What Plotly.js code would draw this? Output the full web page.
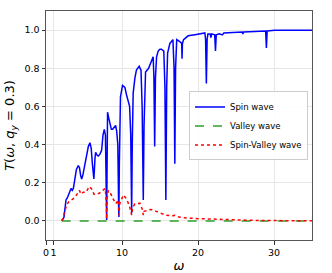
<!DOCTYPE html>
<html><head><meta charset="utf-8">
<script src="https://cdn.plot.ly/plotly-3.0.1.min.js"></script>
<style>html,body{margin:0;padding:0;background:#fff;}#c{width:332px;height:273px;}</style>
</head><body><div id="c"></div>
<script>
const spinW = [2.06,2.25,2.37,2.5,2.63,2.8,2.93,3.1,3.29,3.46,3.6,3.8,4.0,4.25,4.4,4.55,4.69,4.85,5.1,5.35,5.57,5.78,5.95,6.1,6.3,6.45,6.53,6.7,6.88,7.1,7.32,7.5,7.67,7.82,7.92,7.98,8.04,8.1,8.25,8.41,8.6,8.76,8.95,9.16,9.3,9.45,9.55,9.59,9.65,9.8,10.07,10.38,10.6,10.82,11.0,11.15,11.27,11.35,11.47,11.7,11.9,12.26,12.5,12.65,12.8,12.9,13.0,13.1,13.5,13.9,14.1,14.2,14.3,14.4,14.55,14.76,15.0,15.2,15.5,15.65,15.77,15.88,16.0,16.3,16.7,16.85,16.95,17.05,17.2,17.6,17.85,17.9,17.95,18.1,18.7,19.6,20.9,21.0,21.1,21.2,21.3,21.6,21.7,21.8,22.2,22.3,22.4,22.8,23.2,23.4,25.8,25.9,26.0,28.9,29.0,29.1,30.1,35];
const spinT = [0.005,0.01,0.02,0.08,0.11,0.12,0.13,0.15,0.17,0.16,0.17,0.22,0.27,0.29,0.28,0.24,0.22,0.24,0.30,0.36,0.39,0.41,0.38,0.30,0.22,0.33,0.36,0.345,0.34,0.35,0.37,0.45,0.48,0.45,0.2,0.005,0.3,0.57,0.54,0.51,0.48,0.48,0.49,0.50,0.47,0.40,0.1,0.02,0.3,0.65,0.71,0.70,0.66,0.62,0.60,0.45,0.04,0.4,0.67,0.75,0.79,0.81,0.79,0.6,0.11,0.5,0.76,0.78,0.80,0.84,0.86,0.75,0.39,0.75,0.86,0.89,0.90,0.90,0.89,0.7,0.11,0.7,0.88,0.93,0.95,0.8,0.30,0.8,0.95,0.94,0.93,0.85,0.93,0.95,0.97,0.976,0.985,0.95,0.72,0.95,0.98,0.98,0.96,0.98,0.975,0.89,0.975,0.98,0.975,0.985,0.99,0.98,0.99,0.995,0.906,0.995,0.999,0.999];
const valleyW = [2.06,10,20,30,35];
const valleyT = [0,0,0,0,0];
const svW = [2.06,2.2,2.4,2.72,3.0,3.29,3.72,4.17,4.4,4.6,4.9,5.26,5.5,5.7,5.95,6.14,6.3,6.58,7.0,7.45,7.8,7.92,7.98,8.05,8.2,8.55,8.76,9.2,9.5,9.59,9.7,10.17,10.5,10.95,11.27,11.4,11.7,12.35,12.7,12.8,12.9,13.7,14.0,14.5,15.1,15.8,16.6,16.9,17.5,18.5,20,23,26,28,35];
const svT = [0,0.01,0.04,0.084,0.1,0.11,0.12,0.145,0.16,0.14,0.15,0.15,0.17,0.18,0.17,0.16,0.14,0.14,0.145,0.16,0.17,0.1,0.01,0.12,0.16,0.14,0.12,0.09,0.11,0.03,0.09,0.136,0.12,0.084,0.03,0.07,0.09,0.093,0.058,0.03,0.05,0.06,0.058,0.05,0.04,0.03,0.026,0.03,0.02,0.015,0.012,0.008,0.004,0.002,0.001];
const xTickVals = [0,1,10,20,30];
const xTickText = ['0','1','10','20','30'];
const yTickVals = [0,0.2,0.4,0.6,0.8,1.0];
const yTickText = ['0.0','0.2','0.4','0.6','0.8','1.0'];

const font = {family:'DejaVu Sans', size:9.5, color:'#000'};
const traces = [
  {x:spinW, y:spinT, mode:'lines', name:'Spin wave', line:{color:'#0000ff', width:1.5}},
  {x:valleyW, y:valleyT, mode:'lines', name:'Valley wave', line:{color:'#2ca02c', width:1.5, dash:'dash'}},
  {x:svW, y:svT, mode:'lines', name:'Spin-Valley wave', line:{color:'#ff0000', width:1.5, dash:'dot'}}
];
const layout = {
  width:332, height:273,
  margin:{l:46, r:20, t:11, b:33},
  paper_bgcolor:'#fff', plot_bgcolor:'#fff',
  font:font,
  showlegend:true,
  legend:{x:0.985, y:0.498, xanchor:'right', yanchor:'middle', itemwidth:30, bgcolor:'rgba(255,255,255,0.85)', bordercolor:'#cccccc', borderwidth:1, font:{family:'DejaVu Sans', size:8.5}, tracegroupgap:0},
  xaxis:{range:[0,35], tickvals:xTickVals, ticktext:xTickText, tickangle:0, automargin:false, showgrid:true, gridcolor:'#e6e6e6', gridwidth:1, zeroline:false,
    showline:true, mirror:true, linecolor:'#555', linewidth:1, ticks:'outside', ticklen:3.5, tickcolor:'#333', tickfont:font,
    title:{text:'<i>ω</i>', font:{family:'DejaVu Sans', size:13}, standoff:4}},
  yaxis:{range:[-0.1,1.1], tickvals:yTickVals, ticktext:yTickText, automargin:false, showgrid:true, gridcolor:'#e6e6e6', gridwidth:1, zeroline:false,
    showline:true, mirror:true, linecolor:'#555', linewidth:1, ticks:'outside', ticklen:3.5, tickcolor:'#333', tickfont:font,
    title:{text:'<i>T</i>(<i>ω</i>, <i>q</i><sub><i>y</i></sub> = 0.3)', font:{family:'DejaVu Sans', size:13}, standoff:6}}
};
Plotly.newPlot('c', traces, layout, {displayModeBar:false, staticPlot:true});
</script></body></html>
